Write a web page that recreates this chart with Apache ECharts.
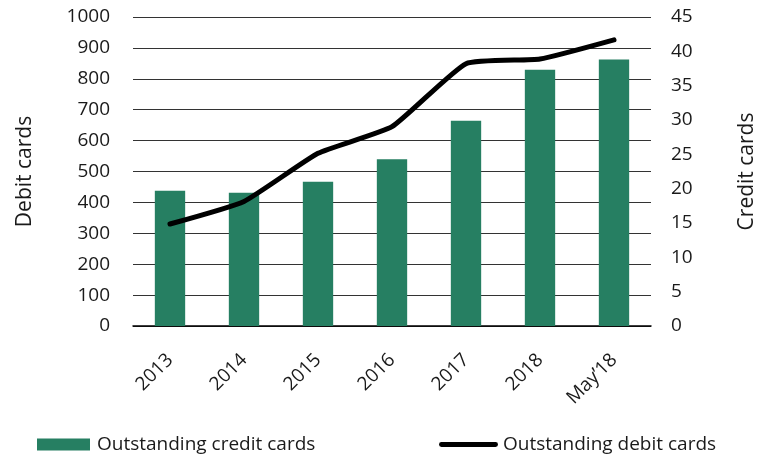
<!DOCTYPE html>
<html>
<head>
<meta charset="utf-8">
<script src="https://cdn.jsdelivr.net/npm/echarts@6/dist/echarts.min.js"></script>
<style>
  html, body { margin: 0; padding: 0; background: #fff; }
  #chart { width: 766px; height: 456px; }
</style>
</head>
<body>
<div id="chart"></div>
<script>
// Outstanding cards: credit cards as bars (right axis), debit cards as a line (left axis)
const categories = ['2013', '2014', '2015', '2016', '2017', '2018', 'May\u201918'];
const creditCards = [19.7, 19.4, 21.0, 24.3, 29.9, 37.3, 38.8];
const debitCards = [330, 403, 559, 645, 849, 864, 926];
const debitTicks = { min: 0, max: 1000, interval: 100 };
const creditTicks = { min: 0, max: 45, interval: 5 };

const FONT = '"Open Sans", sans-serif';
const GREEN = '#267f62';
const TEXT = '#1a1a1a';

const chart = echarts.init(document.getElementById('chart'), null, { renderer: 'canvas' });

chart.setOption({
  animation: false,
  backgroundColor: '#ffffff',
  grid: { left: 133, right: 102, top: 17, bottom: 130, containLabel: false },
  legend: [
    {
      left: 32, top: 430,
      itemWidth: 53, itemHeight: 12,
      textStyle: { fontFamily: FONT, fontSize: 19, color: TEXT, padding: [0, 0, 0, 2] },
      data: [{ name: 'Outstanding credit cards', icon: 'rect' }]
    },
    {
      left: 434, top: 430,
      itemWidth: 59, itemHeight: 12,
      textStyle: { fontFamily: FONT, fontSize: 19, color: TEXT, padding: 0 },
      data: [{ name: 'Outstanding debit cards', icon: 'path://M2,0 L57,0 A2.5,2.5 0 0 1 57,5 L2,5 A2.5,2.5 0 0 1 2,0 Z' }]
    }
  ],
  xAxis: {
    type: 'category',
    data: categories,
    axisLine: { lineStyle: { color: '#000', width: 1.5 } },
    axisTick: { show: false },
    axisLabel: {
      rotate: 45, margin: 31,
      fontFamily: FONT, fontSize: 19, color: TEXT
    }
  },
  yAxis: [
    {
      type: 'value',
      min: debitTicks.min, max: debitTicks.max, interval: debitTicks.interval,
      name: 'Debit cards',
      nameLocation: 'middle', nameGap: 97, nameRotate: 90,
      nameTextStyle: { fontFamily: FONT, fontSize: 21, color: TEXT },
      axisLine: { show: false },
      axisTick: { show: false },
      axisLabel: {
        margin: 23, fontFamily: FONT, fontSize: 19, color: TEXT,
        formatter: v => String(v)
      },
      splitLine: { lineStyle: { color: '#333', width: 1 } }
    },
    {
      type: 'value',
      min: creditTicks.min, max: creditTicks.max, interval: creditTicks.interval,
      name: 'Credit cards',
      nameLocation: 'middle', nameGap: 86, nameRotate: 90,
      nameTextStyle: { fontFamily: FONT, fontSize: 21, color: TEXT },
      axisLine: { show: false },
      axisTick: { show: false },
      axisLabel: {
        margin: 20, fontFamily: FONT, fontSize: 19, color: TEXT,
        formatter: v => String(v)
      },
      splitLine: { show: false }
    }
  ],
  series: [
    {
      name: 'Outstanding credit cards',
      type: 'bar',
      yAxisIndex: 1,
      data: creditCards,
      barWidth: '41%',
      itemStyle: { color: GREEN }
    },
    {
      name: 'Outstanding debit cards',
      type: 'line',
      yAxisIndex: 0,
      data: debitCards,
      smooth: 0.15,
      symbol: 'none',
      lineStyle: { color: '#000', width: 5, cap: 'round', join: 'round' },
      itemStyle: { color: '#000' }
    }
  ]
});
</script>
</body>
</html>
